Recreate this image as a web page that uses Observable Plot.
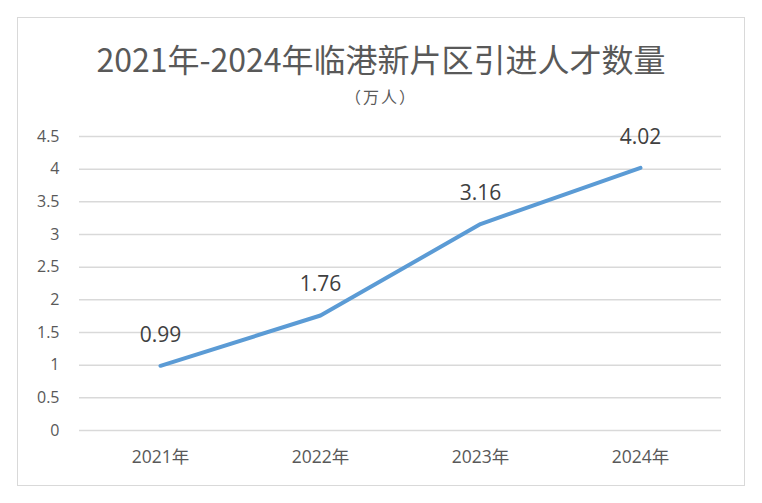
<!DOCTYPE html>
<html>
<head>
<meta charset="utf-8">
<script src="https://cdn.jsdelivr.net/npm/d3@7"></script>
<script src="https://cdn.jsdelivr.net/npm/@observablehq/plot@0.6"></script>
<style>
  html, body { margin: 0; padding: 0; background: #fff; }
  body { width: 762px; height: 503px; position: relative; overflow: hidden; font-family: "Noto Sans CJK SC", "Noto Sans", sans-serif; }
  #frame { position: absolute; left: 17px; top: 17px; width: 728px; height: 469px; border: 1px solid #d9d9d9; box-sizing: border-box; }
  #title { position: absolute; left: 0; width: 762px; top: 42px; text-align: center; font-size: 32px; color: #595959; line-height: 1; font-weight: 400; }
  #subtitle { position: absolute; left: 0; width: 762px; top: 88px; text-align: center; font-size: 16px; letter-spacing: 2px; color: #595959; line-height: 1; }
  #chart { position: absolute; left: 0; top: 110px; }
</style>
</head>
<body>
<div id="frame"></div>
<div id="title">2021年-2024年临港新片区引进人才数量</div>
<div id="subtitle">（万人）</div>
<div id="chart"></div>
<script>
const years = ["2021年", "2022年", "2023年", "2024年"];
const values = [0.99, 1.76, 3.16, 4.02];
const yTicks = [0, 0.5, 1, 1.5, 2, 2.5, 3, 3.5, 4, 4.5];

const data = years.map((y, i) => ({year: y, value: values[i]}));

const font = '"Open Sans", "Noto Sans CJK SC", sans-serif';
const chart = Plot.plot({
  width: 762,
  height: 380,
  marginTop: 26,
  marginBottom: 60,
  marginLeft: 79,
  marginRight: 41,
  style: {fontFamily: font, fontSize: "16px", color: "#595959", background: "transparent"},
  x: {type: "point", domain: years, padding: 0.5, label: null},
  y: {domain: [0, 4.5], label: null},
  marks: [
    Plot.ruleY(yTicks, {stroke: "#d9d9d9", strokeWidth: 1.5}),
    Plot.axisY({ticks: yTicks, tickSize: 0, tickPadding: 20, tickFormat: d => String(d), fontSize: 16, fill: "#595959", label: null}),
    Plot.axisX({tickSize: 0, tickPadding: 20, fontSize: 17.5, fill: "#595959", label: null}),
    Plot.line(data, {x: "year", y: "value", stroke: "#5b9bd5", strokeWidth: 4, strokeLinecap: "round", strokeLinejoin: "round"}),
    Plot.text(data, {x: "year", y: "value", text: d => d.value.toFixed(2), dy: -31, fontSize: 21, fill: "#404040"})
  ]
});
document.getElementById("chart").appendChild(chart);
</script>
</body>
</html>
